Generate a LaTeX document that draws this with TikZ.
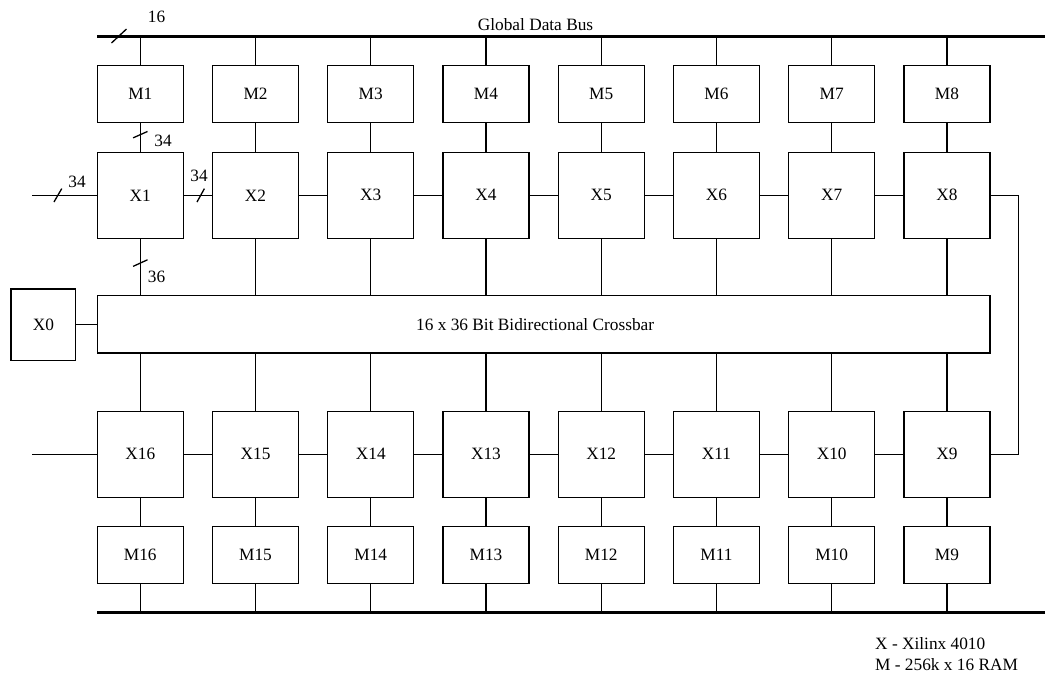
\documentclass[tikz,border=0pt]{standalone}
\usepackage{fontspec}
\setmainfont{Liberation Serif}
\begin{document}
\begin{tikzpicture}[x=1pt,y=-1pt,
  font=\fontsize{17.3}{20}\selectfont,
  wire/.style={line width=1.3pt},
  bus/.style={line width=3pt},
  box/.style={draw,line width=1.3pt,inner sep=0pt,minimum width=86pt},
  mbox/.style={box,minimum height=57pt},
  xbox/.style={box,minimum height=86pt},
  lbl/.style={inner sep=0pt},
  slashh/.style={wire},
]
\useasboundingbox (0,0) rectangle (1045,681);
% buses
\coordinate (busTL) at (97,36);
\coordinate (busTR) at (1045,36);
\coordinate (busBL) at (97,612.7);
\coordinate (busBR) at (1045,612.7);
\draw[bus] (busTL) -- (busTR);
\draw[bus] (busBL) -- (busBR);
\node[lbl,anchor=base] (gdb) at (535.5,30) {Global Data Bus};
% top row
\foreach \i in {1,...,8}{
  \pgfmathsetmacro{\cx}{140.3+115.23*(\i-1)}
  \node[mbox] (M\i) at (\cx,94.2) {M\i};
  \node[xbox] (X\i) at (\cx,195.3) {X\i};
  \draw[wire] (M\i.north) -- (M\i.north |- busTL);
}
% bottom row
\foreach \i [evaluate=\i as \j using int(17-\i)] in {1,...,8}{
  \pgfmathsetmacro{\cx}{140.3+115.23*(\i-1)}
  \node[xbox] (X\j) at (\cx,454.2) {X\j};
  \node[mbox] (M\j) at (\cx,555) {M\j};
  \draw[wire] (M\j.south) -- (M\j.south |- busBL);
  \draw[wire] (X\j.south) -- (M\j.north);
}
% crossbar
\node[draw,line width=1.3pt,inner sep=0pt,minimum width=892.7pt,minimum height=57.3pt,
  label={[lbl,xshift=-8.5pt]center:16 x 36 Bit Bidirectional Crossbar}] (XB) at (543.65,324.35) {};
\node[draw,line width=1.3pt,inner sep=0pt,minimum width=64.7pt,minimum height=71.3pt] (X0) at (43.35,324.65) {X0};
\draw[wire] (X0.east |- XB.west) -- (XB.west);
% connections top
\foreach \i in {2,...,8}{
  \draw[wire] (M\i.south) -- (X\i.north);
}
\draw[wire] (M1.south) -- coordinate[pos=0.4] (s2) (X1.north);
\foreach \i in {1,...,8}{
  \draw[wire] (X\i.south) -- (X\i.south |- XB.north);
}
\foreach \i in {9,...,16}{
  \draw[wire] (X\i.north) -- (X\i.north |- XB.south);
}
\draw[wire] (X1.east) -- coordinate[pos=0.6] (s4) (X2.west);
\foreach \a/\b in {2/3,3/4,4/5,5/6,6/7,7/8,16/15,15/14,14/13,13/12,12/11,11/10,10/9}{
  \draw[wire] (X\a.east) -- (X\b.west);
}
\coordinate (inT) at (32,195.3);
\coordinate (inB) at (32,454.2);
\draw[wire] (inT) -- coordinate[pos=0.4] (s3) (X1.west);
\draw[wire] (inB) -- (X16.west);
\draw[wire] (X1.south) -- coordinate[pos=0.43] (s5) (X1.south |- XB.north);
% loop X8 - X9
\coordinate (loopT) at (1018.3,195.3);
\draw[wire] (X8.east) -- (loopT) -- (loopT |- X9.east) -- (X9.east);
% slashes
\coordinate (s1) at (119,36);
\draw[wire] ([shift={(-7.5,7)}]s1) -- ([shift={(7.5,-7)}]s1);
\draw[wire] ([shift={(-7.2,3.2)}]s2) -- ([shift={(7.2,-3.2)}]s2);
\draw[wire] ([shift={(-3.9,6.7)}]s3) -- ([shift={(3.9,-6.7)}]s3);
\draw[wire] ([shift={(-3.7,6.7)}]s4) -- ([shift={(3.7,-6.7)}]s4);
\draw[wire] ([shift={(-7.2,3.3)}]s5) -- ([shift={(7.2,-3.3)}]s5);
% labels
\node[lbl] (l16) at (156.5,16.5) {16};
\node[lbl] (l34a) at (163,140.5) {34};
\node[lbl] (l34b) at (77,182.2) {34};
\node[lbl] (l34c) at (199,175.8) {34};
\node[lbl] (l36) at (156.5,276.7) {36};
% legend
\node[lbl,anchor=base west] (leg1) at (875,649) {X - Xilinx 4010};
\node[lbl,anchor=base west] (leg2) at (875,670.7) {M - 256k x 16 RAM};
\end{tikzpicture}
\end{document}
